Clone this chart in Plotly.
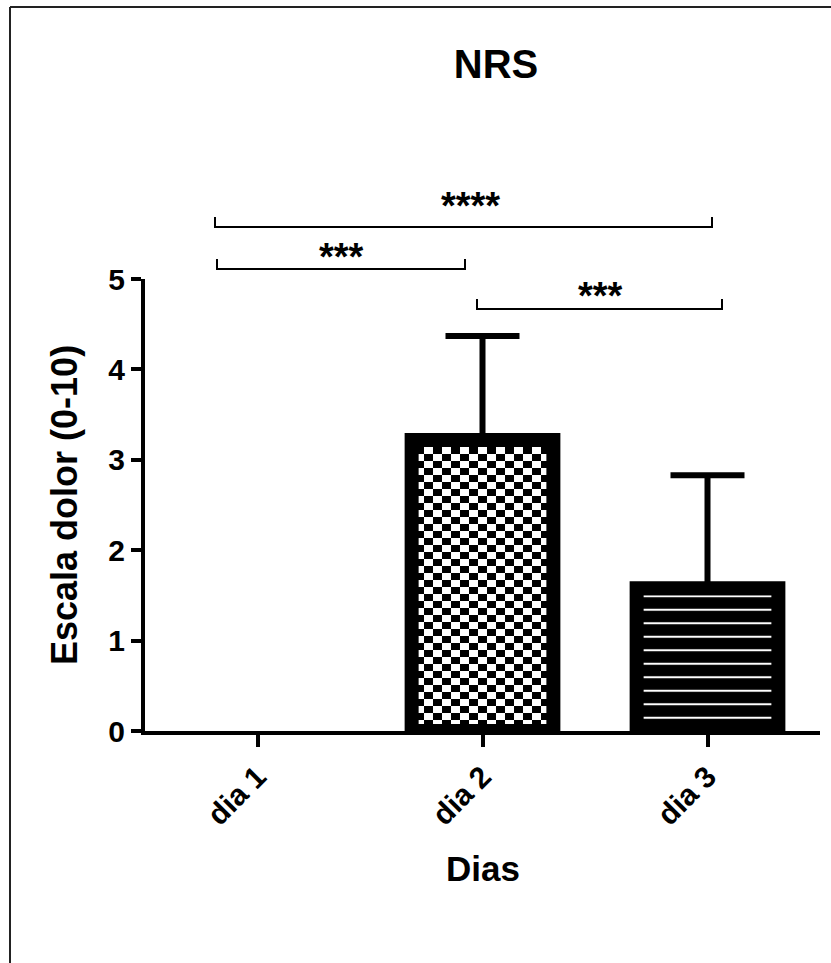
import plotly.graph_objects as go

# ---- data ----
categories = ["dia 1", "dia 2", "dia 3"]
means = [0.0, 3.22, 1.58]
sd_up = [0.0, 1.15, 1.25]
y_ticks = [0, 1, 2, 3, 4, 5]
brackets = [  # (label, x0_px, x1_px, line_y_px, text_x_px, text_y_px)
    ("****", 215, 712, 227, 470, 206),
    ("***", 217, 465, 269, 341, 257),
    ("***", 477, 722, 309, 600, 296),
]

W, H = 831, 963
L, R, T, B = 145, 11, 279, 232
PW, PH = W - L - R, H - T - B
FONT = "Liberation Sans"


def px_x(p):
    return (p - L) / PW


def px_y(p):
    return (H - B - p) / PH


fig = go.Figure()
fig.add_trace(go.Bar(
    x=categories,
    y=means,
    width=0.63,
    marker=dict(
        color="black",
        opacity=[0, 1, 1],
        line=dict(color="black", width=[0, 14, 14]),
        pattern=dict(
            shape=["", ".", "-"],
            fillmode="replace",
            fgcolor=["black", "black", "white"],
            bgcolor=["black", "white", "black"],
            size=[12, 12, 13.5],
            solidity=[0.3, 0.3, 0.15],
        ),
    ),
    showlegend=False,
    hoverinfo="skip",
))

# error bars only where an SD exists (dia 1 has none)
has_err = [i for i, e in enumerate(sd_up) if e > 0]
fig.add_trace(go.Scatter(
    x=[categories[i] for i in has_err],
    y=[means[i] for i in has_err],
    mode="markers",
    marker=dict(size=1, opacity=0),
    error_y=dict(type="data", symmetric=False,
                 array=[sd_up[i] for i in has_err],
                 arrayminus=[0 for _ in has_err],
                 color="black", thickness=6, width=37),
    showlegend=False,
    hoverinfo="skip",
))

axis_font = dict(family=FONT, size=30, color="black", weight="bold")
fig.update_xaxes(
    range=[-0.5, 2.5], showline=True, linecolor="black", linewidth=4,
    ticks="outside", ticklen=12, tickwidth=4, tickcolor="black",
    tickangle=-45, tickfont=axis_font, showgrid=False, zeroline=False,
)
fig.update_yaxes(
    range=[0, 5], tickvals=y_ticks, showline=True, linecolor="black", linewidth=4,
    ticks="outside", ticklen=10, tickwidth=4, tickcolor="black",
    tickfont=axis_font, showgrid=False, zeroline=False,
)

shapes = []
annotations = []
for lab, x0, x1, ly, tx, ty in brackets:
    shapes.append(dict(
        type="path", xref="paper", yref="paper",
        path=f"M {px_x(x0)},{px_y(ly - 10)} L {px_x(x0)},{px_y(ly)} L {px_x(x1)},{px_y(ly)} L {px_x(x1)},{px_y(ly - 10)}",
        line=dict(color="black", width=2),
    ))
    annotations.append(dict(
        text=lab, xref="paper", yref="paper", x=px_x(tx), y=px_y(ty),
        xanchor="center", yanchor="middle", showarrow=False,
        font=dict(family=FONT, size=38, color="black", weight="bold"),
    ))

# page frame (top and left edges)
shapes.append(dict(type="line", xref="paper", yref="paper",
                   x0=px_x(10), x1=px_x(10), y0=px_y(H), y1=px_y(7),
                   line=dict(color="#222222", width=2)))
shapes.append(dict(type="line", xref="paper", yref="paper",
                   x0=px_x(10), x1=px_x(W), y0=px_y(7), y1=px_y(7),
                   line=dict(color="#222222", width=2)))

# axis titles
annotations.append(dict(
    text="Escala dolor (0-10)", xref="paper", yref="paper",
    x=px_x(64), y=px_y(505), textangle=-90, showarrow=False,
    xanchor="center", yanchor="middle",
    font=dict(family=FONT, size=36, color="black", weight="bold"),
))
annotations.append(dict(
    text="Dias", xref="paper", yref="paper",
    x=px_x(483), y=px_y(868), showarrow=False,
    xanchor="center", yanchor="middle",
    font=dict(family=FONT, size=35, color="black", weight="bold"),
))

fig.update_layout(
    width=W, height=H,
    margin=dict(l=L, r=R, t=T, b=B, pad=0),
    paper_bgcolor="white", plot_bgcolor="white",
    title=dict(text="NRS", x=px_x(496), xref="paper", xanchor="center",
               y=1 - 64 / H, yref="container", yanchor="middle",
               font=dict(family=FONT, size=40, color="black", weight="bold")),
    shapes=shapes, annotations=annotations,
    bargap=0.37,
)

post = """
document.body.style.margin = '0';
var gd = document.getElementById('{plot_id}');
var pats = gd.querySelectorAll('pattern');
pats.forEach(function(p){
  if (p.querySelector('circle')) {
    p.setAttribute('width', 18);
    p.setAttribute('height', 14);
    p.innerHTML = '<rect x="0" y="0" width="18" height="14" fill="#ffffff"/>' +
                  '<rect x="0" y="0" width="9" height="7" fill="#000000"/>' +
                  '<rect x="9" y="7" width="9" height="7" fill="#000000"/>';
  }
});
"""

fig.write_html("out.html", post_script=post, config={"displayModeBar": False})
